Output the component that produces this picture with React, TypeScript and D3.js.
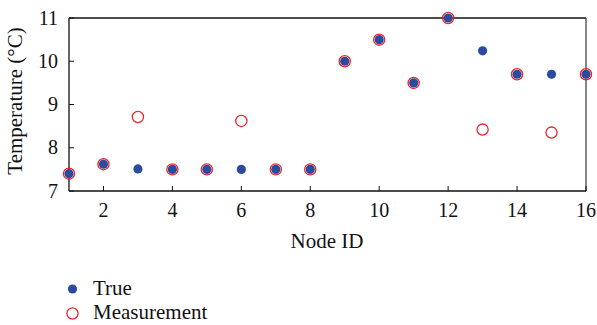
import React from "react";
import * as d3 from "d3";

const nodeIds = [1, 2, 3, 4, 5, 6, 7, 8, 9, 10, 11, 12, 13, 14, 15, 16];
const trueValues = [7.4, 7.62, 7.51, 7.5, 7.5, 7.5, 7.5, 7.5, 10.0, 10.5, 9.5, 11.0, 10.24, 9.7, 9.7, 9.7];
const measurementValues = [7.4, 7.62, 8.71, 7.5, 7.5, 8.62, 7.5, 7.5, 10.0, 10.5, 9.5, 11.0, 8.42, 9.7, 8.35, 9.7];
const xTicks = [2, 4, 6, 8, 10, 12, 14, 16];
const yTicks = [7, 8, 9, 10, 11];

const W = 597;
const H = 325;
const M = { left: 69, right: 586, top: 18, bottom: 191 };
const FONT = "'Liberation Serif', 'Times New Roman', serif";
const BLUE = "#2d4b9e";
const RED = "#e8252b";

export default function App() {
  const x = d3.scaleLinear().domain([1, 16]).range([M.left, M.right]);
  const y = d3.scaleLinear().domain([7, 11]).range([M.bottom, M.top]);
  return (
    <svg width={W} height={H} style={{ position: "absolute", left: 0, top: 0 }} fontFamily={FONT}>
      <rect x={0} y={0} width={W} height={H} fill="#fff" />
      <line x1={M.left} x2={M.right} y1={M.top} y2={M.top} stroke="#111" strokeWidth={1.3} />
      <line x1={M.right} x2={M.right} y1={M.top} y2={M.bottom} stroke="#444" strokeWidth={1.3} />
      <line x1={M.left} x2={M.left} y1={M.top} y2={M.bottom} stroke="#111" strokeWidth={1.3} />
      <line x1={M.left} x2={M.right} y1={M.bottom} y2={M.bottom} stroke="#111" strokeWidth={1.3} />
      {yTicks.map((t) => (
        <g key={"y" + t}>
          <line x1={M.left} x2={M.left + 5} y1={y(t)} y2={y(t)} stroke="#111" strokeWidth={1} />
          <text x={58} y={y(t)} dy="0.33em" textAnchor="end" fontSize={20} fill="#111">{t}</text>
        </g>
      ))}
      {xTicks.map((t) => (
        <g key={"x" + t}>
          <line x1={x(t)} x2={x(t)} y1={M.bottom} y2={M.bottom - 5} stroke="#111" strokeWidth={1} />
          <text x={x(t)} y={217} textAnchor="middle" fontSize={20} fill="#111">{t}</text>
        </g>
      ))}
      <text x={327} y={248} textAnchor="middle" fontSize={21} fill="#111">Node ID</text>
      <text transform={`translate(22, 101) rotate(-90)`} textAnchor="middle" fontSize={21} fill="#111">Temperature (°C)</text>
      {nodeIds.map((n, i) => (
        <circle key={"t" + n} cx={x(n)} cy={y(trueValues[i])} r={4.6} fill={BLUE} />
      ))}
      {nodeIds.map((n, i) => (
        <circle key={"m" + n} cx={x(n)} cy={y(measurementValues[i])} r={5.6} fill="none" stroke={RED} strokeWidth={1.3} />
      ))}
      <circle cx={72.5} cy={289} r={4.6} fill={BLUE} />
      <text x={93} y={295} fontSize={21} fill="#111">True</text>
      <circle cx={72.5} cy={313.5} r={5.6} fill="none" stroke={RED} strokeWidth={1.3} />
      <text x={93} y={319} fontSize={21} fill="#111">Measurement</text>
    </svg>
  );
}
